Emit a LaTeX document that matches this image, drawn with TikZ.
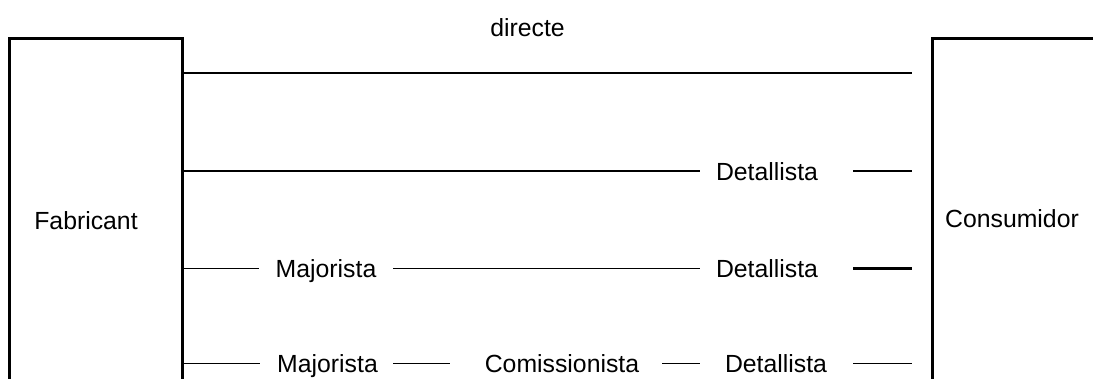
\documentclass[tikz,border=0pt]{standalone}
\usepackage{fontspec}
\setmainfont{Liberation Sans}
\begin{document}
\begin{tikzpicture}[x=1pt,y=-1pt,
  lbl/.style={inner sep=0pt,anchor=base,font=\fontsize{24.8}{30}\selectfont},
  boxline/.style={line width=3pt,line cap=butt,line join=miter},
  conn/.style={line width=1.3pt},
  thickconn/.style={line width=2.6pt}]
\useasboundingbox (0,0) rectangle (1093,378);
\clip (0,0) rectangle (1093,378);
% boxes (open at the bottom, cut by the page edge)
\draw[boxline] (9.5,400) -- (9.5,38.5) -- (182,38.5) -- (182,400);
\draw[boxline] (932,400) -- (932,38.5) -- (1100,38.5);
\node[lbl] (fab) at (86,229) {Fabricant};
\node[lbl] (cons) at (1012,227) {Consumidor};
% row 1
\node[lbl] (dir) at (527.5,36) {directe};
\coordinate (f1) at (182,73);
\coordinate (c1) at (912,73);
\draw[conn] (f1) -- (c1);
% row 2
\coordinate (f2) at (182,171);
\node[lbl] (d2) at (767,180) {Detallista};
\coordinate (d2l) at (700,171);
\coordinate (d2r) at (853,171);
\coordinate (c2) at (912,171);
\draw[conn] (f2) -- (d2l);
\draw[conn] (d2r) -- (c2);
% row 3
\coordinate (f3) at (182,268.5);
\node[lbl] (m3) at (326,277.5) {Majorista};
\node[lbl] (d3) at (767,277.5) {Detallista};
\coordinate (m3l) at (259,268.5);
\coordinate (m3r) at (393,268.5);
\coordinate (d3l) at (700,268.5);
\coordinate (d3r) at (853,268.5);
\coordinate (c3) at (912,268.5);
\draw[conn] (f3) -- (m3l);
\draw[conn] (m3r) -- (d3l);
\draw[thickconn] (d3r) -- (c3);
% row 4
\coordinate (f4) at (182,363.5);
\node[lbl] (m4) at (327.5,372.5) {Majorista};
\node[lbl] (k4) at (562,372.5) {Comissionista};
\node[lbl] (d4) at (776,372.5) {Detallista};
\coordinate (m4l) at (260,363.5);
\coordinate (m4r) at (393,363.5);
\coordinate (k4l) at (450,363.5);
\coordinate (k4r) at (662,363.5);
\coordinate (d4l) at (700,363.5);
\coordinate (d4r) at (853,363.5);
\coordinate (c4) at (912,363.5);
\draw[conn] (f4) -- (m4l);
\draw[conn] (m4r) -- (k4l);
\draw[conn] (k4r) -- (d4l);
\draw[conn] (d4r) -- (c4);
\end{tikzpicture}
\end{document}
